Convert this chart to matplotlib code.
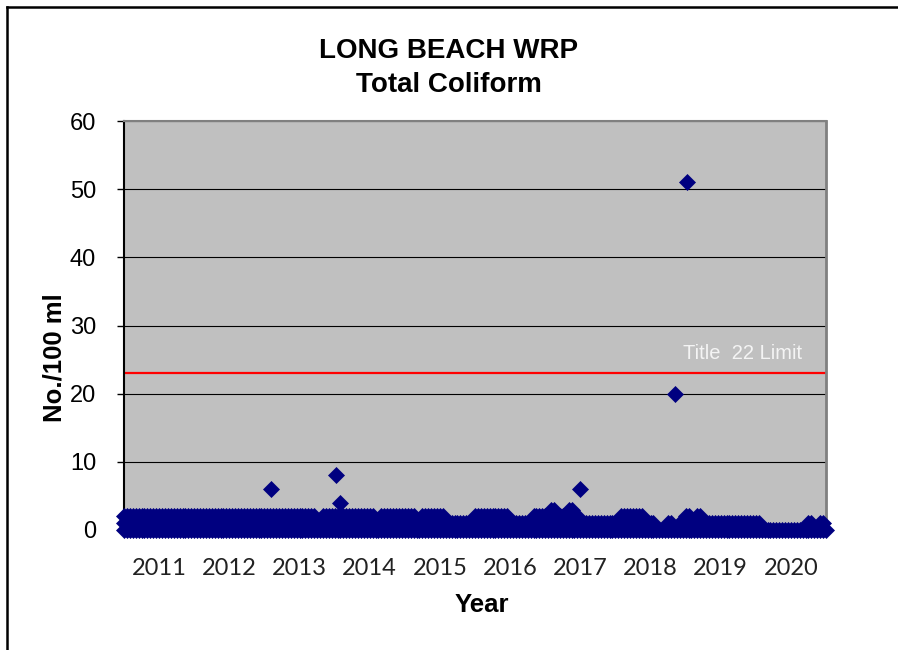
import matplotlib
matplotlib.use("Agg")
import matplotlib.pyplot as plt
from matplotlib.lines import Line2D


# Données

annees = ["2011", "2012", "2013", "2014", "2015", "2016", "2017", "2018", "2019", "2020"]
debut = 2010.5  # début de l'exercice 2011 (juillet 2010)

# maximum mensuel des mesures courantes (0, 1, 2 ou 3 /100 ml), juillet 2010 -> juillet 2020
max_mensuel = [
    2, 2, 2, 2, 2, 2, 2, 2, 2, 2, 2, 2,
    2, 2, 2, 2, 2, 2, 2, 2, 2, 2, 2, 2,
    2, 2, 2, 2, 2, 2, 2, 2, 2, 1, 2, 2,
    2, 2, 2, 2, 2, 2, 2, 1, 2, 2, 2, 2,
    2, 2, 1, 2, 2, 2, 2, 1, 1, 1, 1, 1,
    2, 2, 2, 2, 2, 2, 1, 1, 1, 0, 2, 2,
    2, 3, 2, 2, 3, 2, 1, 1, 1, 1, 1, 1,
    1, 2, 2, 2, 2, 1, 1, 0, 0, 1, 0, 1,
    2, 1, 2, 1, 1, 1, 1, 1, 1, 1, 1, 1,
    1, 0, 0, 0, 0, 0, 0, 0, 0, 1, 0, 1,
    0,
]
prelevements = [0, 0.5]  # deux séries de prélèvements par mois (début / milieu)

# valeurs isolées
pics_date = [2012.60, 2013.52, 2013.58, 2016.99, 2018.35, 2018.52]
pics_valeur = [6, 8, 4, 6, 20, 51]

limite = 23  # Title 22


xs, ys = [], []
for i, vmax in enumerate(max_mensuel):
    for j in prelevements:
        if i == len(max_mensuel) - 1 and j > 0:
            continue  # dernier point = fin de la période
        for v in range(vmax + 1):
            xs.append(debut + (i + j) / 12)
            ys.append(v)


# Dessin

fig = plt.figure(figsize=(8.98, 6.5), dpi=100)
ax = fig.add_axes([124 / 898, 1 - 530 / 650, 702 / 898, 409 / 650])
ax.set_facecolor("#c0c0c0")

ax.set_xlim(debut, debut + 10)
ax.set_ylim(0, 60)
ax.set_yticks(range(0, 61, 10))
ax.set_xticks([debut + k for k in range(11)])
ax.set_xticklabels([])
ax.set_xticks([debut + 0.5 + k for k in range(10)], minor=True)
ax.set_xticklabels(annees, minor=True, fontfamily="Lato", fontsize=17, color="#222222")
ax.tick_params(axis="x", which="minor", length=0, pad=20)
ax.tick_params(axis="x", which="major", length=4, width=1, direction="out")
ax.tick_params(axis="y", length=5, width=1, pad=15, labelsize=17)
for t in ax.get_yticklabels():
    t.set_fontfamily("Liberation Sans")

ax.set_axisbelow(True)
ax.grid(axis="y", color="black", linewidth=0.8)

ax.spines["left"].set_color("black")
ax.spines["left"].set_linewidth(1.5)
ax.spines["bottom"].set_color("black")
ax.spines["bottom"].set_linewidth(1)
ax.spines["top"].set_color("#808080")
ax.spines["top"].set_linewidth(1.5)
ax.spines["right"].set_color("#808080")
ax.spines["right"].set_linewidth(2)

ax.axhline(limite, color="red", linewidth=1.6, zorder=2)
ax.text(2020.16, 25.1, "Title  22 Limit", color="#f4f4f4", fontsize=14.5,
        fontfamily="Liberation Sans", ha="right", va="baseline")

ax.plot(xs, ys, "D", color="#000080", markersize=8.3, markeredgewidth=0.5,
        clip_on=False, zorder=3)
ax.plot(pics_date, pics_valeur, "D", color="#000080", markersize=8.3,
        markeredgewidth=0.5, clip_on=False, zorder=3)

fig.text(55 / 898, 1 - 358 / 650, "No./100 ml", rotation=90, ha="center", va="center",
         fontfamily="Liberation Sans", fontweight="bold", fontsize=18.5)
fig.text(482 / 898, 1 - 605 / 650, "Year", ha="center", va="center",
         fontfamily="Liberation Sans", fontweight="bold", fontsize=18.5)

fig.text(0.5, 1 - 51 / 650, "LONG BEACH WRP", ha="center", va="center",
         fontfamily="Liberation Sans", fontweight="bold", fontsize=20)
fig.text(0.5, 1 - 85 / 650, "Total Coliform", ha="center", va="center",
         fontfamily="Liberation Sans", fontweight="bold", fontsize=20)

# cadre extérieur
fig.add_artist(Line2D([7 / 898, 7 / 898], [0, 1 - 7 / 650], color="black", linewidth=1.8))
fig.add_artist(Line2D([7 / 898, 1], [1 - 7 / 650, 1 - 7 / 650], color="black", linewidth=1.8))

fig.savefig("out.png", dpi=100)
